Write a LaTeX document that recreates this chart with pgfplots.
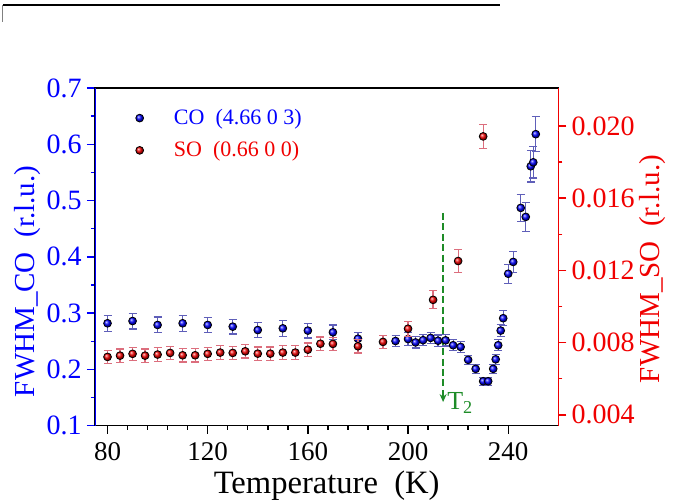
\documentclass[border=0pt]{standalone}
\usepackage{fontspec}
\setmainfont{Liberation Serif}
\usepackage{pgfplots}
\pgfplotsset{compat=1.18}
\usepackage{pgfplotstable}
\usetikzlibrary{arrows.meta}

\definecolor{coblue}{RGB}{0,0,255}
\definecolor{sored}{RGB}{240,0,0}
\definecolor{errblue}{RGB}{95,95,185}
\definecolor{errred}{RGB}{220,110,125}
\definecolor{tgreen}{RGB}{30,140,40}

% CO (4.66 0 3): temperature, FWHM, error
\pgfplotstableread{
T v e
80 0.282 0.014
90 0.286 0.014
100 0.279 0.014
110 0.282 0.014
120 0.279 0.013
130 0.276 0.013
140 0.270 0.013
150 0.273 0.014
160 0.269 0.013
170 0.266 0.013
180 0.2545 0.011
195 0.2505 0.010
200 0.254 0.011
203 0.248 0.010
206 0.252 0.010
209 0.256 0.010
212 0.251 0.010
215 0.2517 0.010
218 0.243 0.010
221 0.240 0.010
224 0.217 0.008
227 0.201 0.008
230 0.179 0.007
232 0.179 0.007
234 0.201 0.008
235 0.218 0.009
236 0.243 0.010
237 0.269 0.011
238 0.291 0.013
240 0.370 0.017
242 0.391 0.019
245 0.487 0.024
247 0.471 0.026
249 0.561 0.028
250 0.568 0.028
251 0.618 0.031
}\codata

% SO (0.66 0 0)
\pgfplotstableread{
T v e
80 0.00721 0.00037
85 0.00728 0.00037
90 0.00738 0.00037
95 0.00728 0.00037
100 0.00734 0.00037
105 0.00743 0.00037
110 0.00730 0.00037
115 0.00730 0.00037
120 0.00738 0.00037
125 0.00745 0.00037
130 0.00743 0.00037
135 0.00752 0.00037
140 0.00739 0.00037
145 0.00739 0.00037
150 0.00745 0.00037
155 0.00745 0.00037
160 0.00761 0.00037
165 0.00794 0.00037
170 0.00793 0.00037
180 0.00780 0.00037
190 0.00804 0.00037
200 0.00877 0.00042
210 0.01037 0.00050
220 0.01252 0.00064
230 0.01942 0.00066
}\sodata

\pgfplotsset{
  common/.style={
    scale only axis, width=231.65pt, height=168.85pt,
    xmin=75, xmax=260,
    tick align=outside,
    major tick length=4pt, minor tick length=2pt,
    /pgf/number format/assume math mode=true,
    scaled y ticks=false,
  },
}

\begin{document}
\begin{tikzpicture}
\useasboundingbox (-47.5pt,-37.15pt) rectangle (295pt,212.85pt);
\draw[line width=0.6pt] (-46pt,210.35pt) -- (202.5pt,210.35pt);
\draw[line width=0.5pt, gray] (-46pt,210.35pt) -- (-46pt,201.85pt);

\begin{axis}[common,
  ymin=0.1, ymax=0.7,
  axis line style={line width=0.7pt},
  xtick pos=left, ytick pos=left,
  xtick={80,120,...,240}, minor x tick num=4,
  ytick={0.1,0.2,...,0.7}, minor y tick num=1,
  x tick style={black, line width=0.7pt},
  y tick style={coblue, line width=0.7pt},
  xticklabel style={font=\fontsize{13.5}{16}\selectfont, yshift=-1pt},
  yticklabel style={font=\fontsize{14}{16}\selectfont, coblue, inner sep=2.5pt,
    /pgf/number format/.cd, fixed, fixed zerofill, precision=1},
  xlabel={Temperature\ \ (K)},
  xlabel style={font=\fontsize{16.3}{19}\selectfont, at={(axis description cs:0.5,0)}, anchor=base, yshift=-33.65pt},
  ylabel={FWHM\_CO\ \ (r.l.u.)},
  ylabel style={font=\fontsize{14.5}{17}\selectfont, coblue, at={(axis description cs:-0.1457,0.427)}, anchor=center},
  legend style={draw=none, fill=none, at={(axis description cs:0.0863,0.951)}, anchor=north west,
    inner sep=0pt, nodes={inner sep=2pt}, row sep=3pt,
    font=\fontsize{11}{13}\selectfont,
    /tikz/every odd column/.append style={column sep=13pt}},
  legend cell align=left,
]
\addplot[only marks, mark=ball, ball color=coblue, mark size=1.95pt,
  error bars/.cd, y dir=both, y explicit,
  error bar style={errblue, line width=0.6pt},
  error mark options={rotate=90, mark size=2pt, errblue, line width=0.6pt}]
  table[x=T, y=v, y error=e] {\codata};
\addlegendentry{\textcolor{coblue}{CO\ \ (4.66 0 3)}}
\addlegendimage{only marks, mark=ball, ball color=sored, mark size=1.95pt}
\addlegendentry{\textcolor{sored}{SO\ \ (0.66 0 0)}}
\draw[coblue, line width=0.7pt] (rel axis cs:0,0) -- (rel axis cs:0,1);
\draw[tgreen, line width=1pt, dash pattern=on 3.5pt off 1.7pt, -{Stealth[length=4pt,width=3.5pt]}]
  (axis cs:214,0.478) -- (axis cs:214,0.142);
\node[tgreen, anchor=base west, inner sep=0pt, font=\fontsize{13}{15}\selectfont]
  at (axis cs:215.5,0.128) {T\textsubscript{2}};
\end{axis}

\begin{axis}[common,
  ymin=0.0034, ymax=0.0221,
  axis x line=none, axis y line*=right,
  y axis line style={sored, line width=0.7pt, -},
  ytick={0.004,0.008,...,0.0201}, minor y tick num=1,
  y tick style={sored, line width=0.7pt},
  yticklabel style={font=\fontsize{14}{16}\selectfont, sored, inner sep=2.5pt,
    /pgf/number format/.cd, fixed, fixed zerofill, precision=3},
  ylabel={FWHM\_SO\ \ (r.l.u.)},
  ylabel style={font=\fontsize{14.5}{17}\selectfont, sored, at={(axis description cs:1.2033,0.464)}, anchor=center},
]
\addplot[only marks, mark=ball, ball color=sored, mark size=1.95pt,
  error bars/.cd, y dir=both, y explicit,
  error bar style={errred, line width=0.6pt},
  error mark options={rotate=90, mark size=2pt, errred, line width=0.6pt}]
  table[x=T, y=v, y error=e] {\sodata};
\end{axis}
\end{tikzpicture}
\end{document}
